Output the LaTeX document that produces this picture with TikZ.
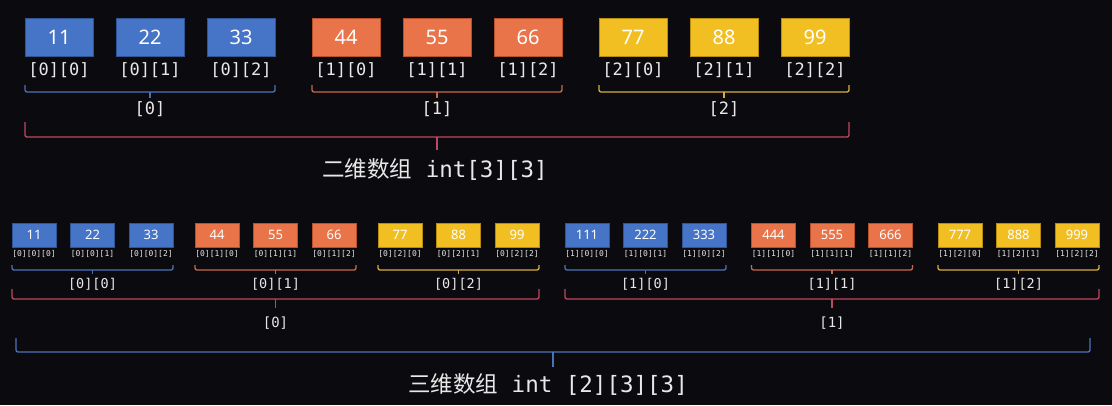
\documentclass[tikz,border=0pt]{standalone}
\usepackage{fontspec}
\setmainfont{Noto Sans}
\setmonofont{DejaVu Sans Mono}
\newfontfamily\cjk{Noto Sans CJK SC}
\usetikzlibrary{calc}
\definecolor{bg}{HTML}{0B0B0F}
\definecolor{txt}{HTML}{E8E8E8}
\definecolor{cblue}{HTML}{4674C6}
\definecolor{corange}{HTML}{E97449}
\definecolor{cyellow}{HTML}{F2BF22}
\definecolor{kblue}{HTML}{2F5597}
\definecolor{korange}{HTML}{B9502C}
\definecolor{kyellow}{HTML}{B88C0E}
\definecolor{bblue}{HTML}{4A72B8}
\definecolor{borange}{HTML}{C8694A}
\definecolor{byellow}{HTML}{D9AD3C}
\definecolor{bred}{HTML}{C0485E}

% bracket: colour, x1, x2, y top, y bottom, y tick
\newcommand{\bkt}[6]{%
  \draw[#1,line width=1.3pt,rounded corners=2pt] (#2,#4) -- (#2,#5) -- (#3,#5) -- (#3,#4);
  \draw[#1,line width=1.3pt] ({(#2+#3)/2},#5) -- ({(#2+#3)/2},#6);}

\begin{document}
\begin{tikzpicture}[x=1pt,y=-1pt,
  bigcell/.style={draw,line width=0.8pt,minimum width=68pt,minimum height=38pt,inner sep=0pt,text=white,font=\fontsize{20}{24}\selectfont},
  smallcell/.style={draw,line width=0.7pt,minimum width=44pt,minimum height=24pt,inner sep=0pt,text=white,font=\fontsize{13}{15}\selectfont},
  idx/.style={text=txt,inner sep=0pt,font=\ttfamily\fontsize{17}{19}\selectfont},
  tinyidx/.style={text=txt,inner sep=0pt,font=\ttfamily\fontsize{8}{9}\selectfont},
  grp/.style={text=txt,inner sep=0pt,font=\ttfamily\fontsize{13.5}{15}\selectfont},
  captext/.style={text=txt,inner sep=0pt,font=\ttfamily\fontsize{22.5}{26}\selectfont}]
  \fill[bg] (0,0) rectangle (1112,405);
  \useasboundingbox (0,0) rectangle (1112,405);
  % Two-dimensional array
  \foreach \g/\col/\kc/\bc in {0/cblue/kblue/bblue,1/corange/korange/borange,2/cyellow/kyellow/byellow}{
    \foreach \i in {0,1,2}{
      \pgfmathtruncatemacro\v{11*(3*\g+\i+1)}
      \pgfmathsetmacro\cx{59+287*\g+91*\i}
      \node[bigcell,fill=\col,draw=\kc] (a\g\i) at (\cx,37) {\v};
      \node[idx] (ai\g\i) at (\cx,70) {[\g][\i]};
    }
    \pgfmathsetmacro\xl{25+287*\g}
    \pgfmathsetmacro\xr{25+287*\g+250}
    \bkt{\bc}{\xl}{\xr}{85}{92}{98}
    \node[idx] (ag\g) at ({(\xl+\xr)/2},109) {[\g]};
  }
  \bkt{bred}{25}{849}{122}{137}{150}
  \node[captext] (cap2) at (435,170) {{\cjk 二维数组} int[3][3]};
  % Three-dimensional array
  \foreach \b in {0,1}{
    \pgfmathsetmacro\gp{183+3.5*\b}
    \foreach \g/\col/\kc/\bc in {0/cblue/kblue/bblue,1/corange/korange/borange,2/cyellow/kyellow/byellow}{
      \foreach \i in {0,1,2}{
        \pgfmathtruncatemacro\v{ifthenelse(\b==0,11,111)*(3*\g+\i+1)}
        \pgfmathsetmacro\cx{34+553*\b+\gp*\g+58.5*\i}
        \node[smallcell,fill=\col,draw=\kc] (b\b\g\i) at (\cx,235) {\v};
        \node[tinyidx] (bi\b\g\i) at (\cx,254) {[\b][\g][\i]};
      }
      \pgfmathsetmacro\xl{12+553*\b+\gp*\g}
      \pgfmathsetmacro\xr{12+553*\b+\gp*\g+161}
      \bkt{\bc}{\xl}{\xr}{265}{270}{274}
      \node[grp] (bg\b\g) at ({(\xl+\xr)/2},284) {[\b][\g]};
    }
    \pgfmathsetmacro\xl{12+553*\b}
    \pgfmathsetmacro\xr{12+553*\b+2*\gp+161}
    \bkt{bred}{\xl}{\xr}{289}{299}{308}
    \node[grp,font=\ttfamily\fontsize{14}{16}\selectfont] (bb\b) at ({(\xl+\xr)/2},323) {[\b]};
  }
  \bkt{bblue}{16}{1090}{338}{352}{367}
  \node[captext] (cap3) at (548,385) {{\cjk 三维数组} int [2][3][3]};
\end{tikzpicture}
\end{document}
